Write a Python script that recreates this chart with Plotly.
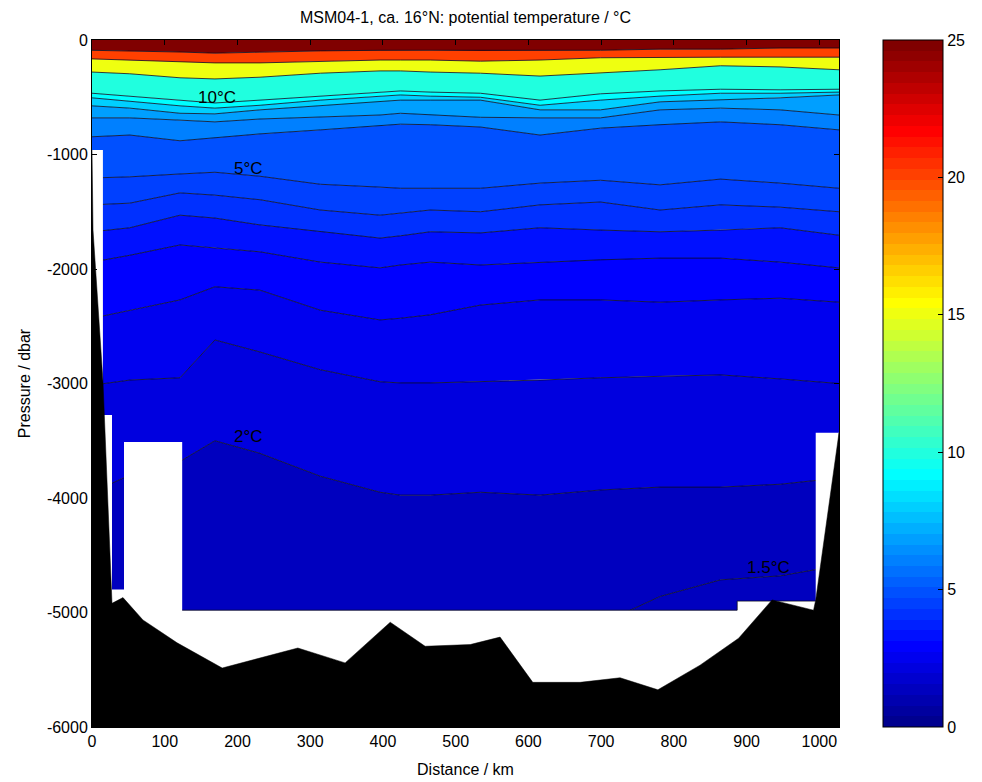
import plotly.graph_objects as go

# ---------------- data ----------------
# station distances (km)
x_km = [0, 52, 121, 169, 231, 314, 396, 424, 465, 534, 616, 699, 781, 864, 946, 1027]

# isotherm pressures (dbar) at each station
p_t25 = [-90, -95, -105, -115, -105, -95, -90, -90, -90, -95, -95, -90, -80, -80, -70, -70]
p_t20 = [-165, -175, -190, -200, -200, -185, -175, -175, -175, -185, -175, -155, -150, -150, -150, -150]
p_t15 = [-280, -295, -330, -340, -325, -290, -270, -270, -280, -290, -315, -290, -260, -225, -235, -260]
p_t10 = [-465, -490, -525, -550, -525, -490, -455, -445, -455, -465, -525, -470, -445, -430, -435, -430]
p_t9 = [-505, -535, -575, -595, -570, -525, -490, -480, -490, -500, -570, -525, -490, -465, -465, -455]
p_t8 = [-575, -595, -640, -645, -610, -575, -540, -525, -525, -525, -610, -610, -540, -525, -505, -480]
p_t7 = [-680, -680, -700, -715, -690, -675, -655, -640, -655, -675, -680, -680, -610, -595, -610, -655]
p_t6 = [-845, -830, -880, -855, -820, -785, -750, -735, -740, -760, -830, -770, -740, -715, -740, -785]
p_t5 = [-1205, -1195, -1170, -1155, -1190, -1260, -1285, -1295, -1295, -1295, -1250, -1225, -1265, -1215, -1250, -1295]
p_t4_5 = [-1440, -1425, -1335, -1355, -1395, -1485, -1530, -1510, -1485, -1500, -1440, -1415, -1485, -1440, -1460, -1500]
p_t4 = [-1675, -1640, -1530, -1555, -1615, -1675, -1730, -1710, -1675, -1685, -1640, -1660, -1675, -1660, -1640, -1705]
p_t3_5 = [-1940, -1880, -1790, -1815, -1850, -1940, -1990, -1965, -1940, -1965, -1940, -1920, -1905, -1905, -1940, -1990]
p_t3 = [-2430, -2360, -2270, -2155, -2185, -2360, -2445, -2430, -2400, -2315, -2270, -2270, -2290, -2270, -2255, -2290]
p_t2_5 = [-3015, -2970, -2950, -2620, -2725, -2880, -2985, -2995, -2995, -2985, -2970, -2950, -2935, -2925, -2960, -3000]
p_t2 = [-3950, -3800, -3680, -3500, -3610, -3810, -3950, -3975, -3975, -3950, -3975, -3930, -3905, -3905, -3880, -3825]
p_t1_5 = [-5300, -5300, -5300, -5300, -5300, -5300, -5300, -5300, -5300, -5300, -5300, -5100, -4860, -4715, -4680, -4590]

levels = [1.5, 2, 2.5, 3, 3.5, 4, 4.5, 5, 6, 7, 8, 9, 10, 15, 20, 25]
isotherms = [p_t1_5, p_t2, p_t2_5, p_t3, p_t3_5, p_t4, p_t4_5, p_t5,
             p_t6, p_t7, p_t8, p_t9, p_t10, p_t15, p_t20, p_t25]

# lower limit of measured data (below: no data)
nodata_x = [0, 15, 15, 27.5, 27.5, 44, 44, 124, 124, 887, 887, 995, 995, 1027]
nodata_p = [-960, -960, -3275, -3275, -4800, -4800, -3510, -3510, -4980, -4980, -4900, -4900, -3430, -3430]

# bathymetry (sea floor)
bathy_x = [0, 1.4, 15, 27.5, 42.6, 70, 117, 179, 283, 348, 410, 458, 520, 561, 606, 671,
           726, 778, 836, 889, 935, 992, 995, 1027]
bathy_p = [-960, -1660, -2970, -4920, -4870, -5065, -5265, -5485, -5310, -5440, -5085, -5295,
           -5280, -5215, -5610, -5610, -5570, -5675, -5460, -5225, -4890, -4980, -4890, -3430]

label_text = ["10°C", "5°C", "2°C", "1.5°C"]
label_x = [172, 215, 215, 930]
label_p = [-498, -1118, -3467, -4611]

cmin, cmax = 0, 25
cbar_ticks = [0, 5, 10, 15, 20, 25]
x_ticks = list(range(0, 1001, 100))
y_ticks = list(range(-6000, 1, 1000))
y_ticktext = ["-6000", "-5000", "-4000", "-3000", "-2000", "-1000", "0"]


# ---------------- MATLAB jet(64) colormap ----------------
def jet64():
    m, n = 64, 16
    u = [i / n for i in range(1, n + 1)] + [1.0] * (n - 1) + [i / n for i in range(n, 0, -1)]
    g = [8 + i for i in range(1, len(u) + 1)]
    r = [gi + n for gi in g]
    b = [gi - n for gi in g]
    g = [v for v in g if v <= m]
    r = [v for v in r if v <= m]
    b = [v for v in b if v >= 1]
    J = [[0.0, 0.0, 0.0] for _ in range(m)]
    for k, ri in enumerate(r):
        J[ri - 1][0] = u[k]
    for k, gi in enumerate(g):
        J[gi - 1][1] = u[k]
    for k, bi in enumerate(b):
        J[bi - 1][2] = u[len(u) - len(b) + k]
    return J


JET = jet64()


def rgb(c):
    return "rgb(%d,%d,%d)" % tuple(round(v * 255) for v in c)


def level_color(v):
    idx = min(64, int((v - cmin) / (cmax - cmin) * 64) + 1)
    return rgb(JET[idx - 1])


colorscale = []
for i, c in enumerate(JET):
    colorscale.append([i / 64, rgb(c)])
    colorscale.append([(i + 1) / 64, rgb(c)])

fig = go.Figure()

# filled bands
n = len(levels)
for i in range(n):
    lower = isotherms[i]
    upper = isotherms[i + 1] if i + 1 < n else [0] * len(x_km)
    fig.add_trace(go.Scatter(
        x=x_km + x_km[::-1], y=upper + lower[::-1], fill="toself",
        fillcolor=level_color(levels[i]), line=dict(width=0), mode="lines",
        hoverinfo="skip", showlegend=False))
# band below the lowest level
fig.add_trace(go.Scatter(
    x=x_km + x_km[::-1], y=isotherms[0] + [-6000] * len(x_km), fill="toself",
    fillcolor=level_color(levels[0]), line=dict(width=0), mode="lines",
    hoverinfo="skip", showlegend=False))

# contour lines
for i in range(n):
    fig.add_trace(go.Scatter(
        x=x_km, y=isotherms[i], mode="lines",
        line=dict(color="rgb(10,10,30)", width=0.8),
        hoverinfo="skip", showlegend=False))

# no-data area (white)
fig.add_trace(go.Scatter(
    x=nodata_x + [1027, 0], y=nodata_p + [-6000, -6000], fill="toself",
    fillcolor="white", line=dict(width=0), mode="lines",
    hoverinfo="skip", showlegend=False))

# edge of the filled data along its bottom
fig.add_trace(go.Scatter(
    x=nodata_x[8:12], y=nodata_p[8:12], mode="lines",
    line=dict(color="rgb(10,10,30)", width=0.8),
    hoverinfo="skip", showlegend=False))

# bathymetry (black)
fig.add_trace(go.Scatter(
    x=bathy_x + [1027, 0], y=bathy_p + [-6000, -6000], fill="toself",
    fillcolor="black", line=dict(width=0.5, color="black"), mode="lines",
    hoverinfo="skip", showlegend=False))

# colorbar carrier
fig.add_trace(go.Scatter(
    x=[None], y=[None], mode="markers", showlegend=False, hoverinfo="skip",
    marker=dict(color=[0], cmin=cmin, cmax=cmax, colorscale=colorscale, showscale=True,
                colorbar=dict(x=(883 - 92) / 747, xanchor="left", xpad=0,
                              y=0.5, yanchor="middle", len=1, lenmode="fraction", ypad=0,
                              thickness=60, thicknessmode="pixels",
                              outlinewidth=1, outlinecolor="black",
                              tickvals=cbar_ticks, ticks="inside", ticklen=5,
                              tickcolor="black",
                              tickfont=dict(size=16, color="black",
                                            family="Liberation Sans, Arial")))))

for t, xx, pp in zip(label_text, label_x, label_p):
    fig.add_annotation(x=xx, y=pp, text=t, showarrow=False,
                       font=dict(size=17, color="black", family="Liberation Sans, Arial"))

font = dict(family="Liberation Sans, Arial", size=16, color="black")
fig.update_layout(
    width=982, height=782,
    margin=dict(l=92, r=143, t=40, b=55, autoexpand=False),
    paper_bgcolor="white", plot_bgcolor="white",
    font=font,
    title=dict(text="MSM04-1, ca. 16°N: potential temperature / °C",
               x=0.5, xref="paper", xanchor="center",
               y=1 - 17 / 782, yref="container", yanchor="middle",
               font=dict(size=16, color="black", family="Liberation Sans, Arial")),
    xaxis=dict(range=[0, 1027], tickvals=x_ticks,
               showgrid=False, zeroline=False, showline=True, linecolor="black",
               linewidth=1, mirror="ticks", ticks="inside", ticklen=5, tickcolor="black",
               tickfont=font, title=dict(text="Distance / km", font=font, standoff=14)),
    yaxis=dict(range=[-6000, 0], tickvals=y_ticks, ticktext=y_ticktext,
               showgrid=False, zeroline=False, showline=True, linecolor="black",
               linewidth=1, mirror="ticks", ticks="inside", ticklen=5, tickcolor="black",
               tickfont=font, title=dict(text="Pressure / dbar", font=font, standoff=12)),
)

fig.write_html("out.html")
